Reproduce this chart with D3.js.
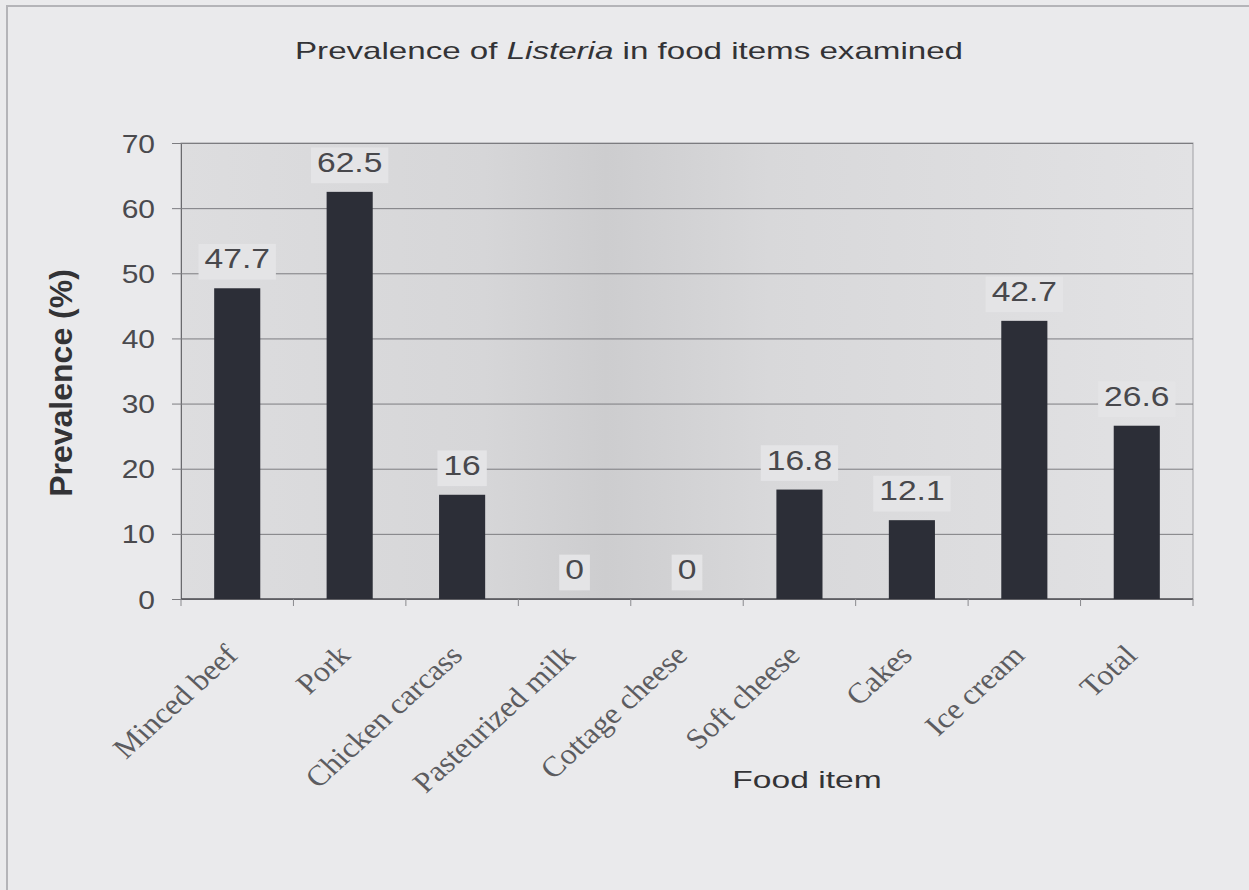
<!DOCTYPE html>
<html>
<head>
<meta charset="utf-8">
<script src="https://cdn.jsdelivr.net/npm/d3@7"></script>
<style>
  body { margin: 0; background: #eaeaec; }
  svg { display: block; }
</style>
</head>
<body>
<script>
var foods = ["Minced beef", "Pork", "Chicken carcass", "Pasteurized milk", "Cottage cheese",
             "Soft cheese", "Cakes", "Ice cream", "Total"];
var prevalence = [47.7, 62.5, 16, 0, 0, 16.8, 12.1, 42.7, 26.6];
var yTicks = [0, 10, 20, 30, 40, 50, 60, 70];

var width = 1249,
    height = 890;

var plotLeft = 181, plotRight = 1193, plotTop = 143, plotBottom = 599;

var svg = d3.select("body").append("svg")
    .attr("width", width)
    .attr("height", height);

// plot background, darker in the middle like the scan
var grad = svg.append("defs").append("linearGradient")
    .attr("id", "plotbg");
grad.append("stop").attr("offset", "0%").attr("stop-color", "#dddddf");
grad.append("stop").attr("offset", "30%").attr("stop-color", "#d6d6d8");
grad.append("stop").attr("offset", "42%").attr("stop-color", "#cdcdcf");
grad.append("stop").attr("offset", "58%").attr("stop-color", "#d8d8da");
grad.append("stop").attr("offset", "100%").attr("stop-color", "#e2e2e4");

// outer frame
svg.append("rect")
    .attr("x", 7).attr("y", 6)
    .attr("width", width).attr("height", height)
    .attr("fill", "none")
    .attr("stroke", "#b4b4b8")
    .attr("stroke-width", 2);

var x = d3.scaleBand()
    .domain(foods)
    .range([plotLeft, plotRight])
    .paddingInner(0.59)
    .paddingOuter(0.295);

var y = d3.scaleLinear()
    .domain([0, 70])
    .range([plotBottom, plotTop]);

svg.append("rect")
    .attr("x", plotLeft).attr("y", plotTop)
    .attr("width", plotRight - plotLeft).attr("height", plotBottom - plotTop)
    .attr("fill", "url(#plotbg)")
    .attr("stroke", "#a0a0a4");

// gridlines + y axis
var yAxis = svg.append("g")
    .attr("transform", "translate(" + plotLeft + ",0)")
    .call(d3.axisLeft(y).tickValues(yTicks).tickSize(-(plotRight - plotLeft)).tickSizeOuter(0).tickFormat(""));
yAxis.select(".domain").attr("stroke", "#6a6a6e");
yAxis.selectAll(".tick line")
    .attr("x1", -9)
    .attr("stroke", "#7c7c80");

yAxis.selectAll(".tick")
  .append("g")
    .attr("transform", "translate(-26,9) scale(1.2,1)")
  .append("text")
    .attr("text-anchor", "end")
    .attr("fill", "#4a4a4e")
    .style("font-family", "'Liberation Sans', Arial, sans-serif")
    .style("font-size", "25px")
    .text(function(d) { return d; });

// x axis
var xAxis = svg.append("g")
    .attr("transform", "translate(0," + plotBottom + ")");
xAxis.append("line")
    .attr("x1", plotLeft).attr("x2", plotRight)
    .attr("stroke", "#55555a")
    .attr("stroke-width", 1.5);
xAxis.selectAll(".xtick")
    .data(d3.range(foods.length + 1))
  .enter().append("line")
    .attr("class", "xtick")
    .attr("x1", function(i) { return plotLeft + i * x.step(); })
    .attr("x2", function(i) { return plotLeft + i * x.step(); })
    .attr("y1", 0).attr("y2", 7)
    .attr("stroke", "#8a8a8e");

xAxis.selectAll(".xlabel")
    .data(foods)
  .enter().append("g")
    .attr("class", "xlabel")
    .attr("transform", function(d) {
      return "translate(" + (x(d) + x.bandwidth() / 2 + 2) + ",58) scale(1.1,1) rotate(-45)";
    })
  .append("text")
    .attr("text-anchor", "end")
    .attr("fill", "#5c5c60")
    .style("font-family", "'Liberation Serif', 'Times New Roman', serif")
    .style("font-size", "29px")
    .text(function(d) { return d; });

// bars
svg.selectAll(".bar")
    .data(prevalence)
  .enter().append("rect")
    .attr("class", "bar")
    .attr("x", function(d, i) { return x(foods[i]); })
    .attr("y", function(d) { return y(d); })
    .attr("width", x.bandwidth())
    .attr("height", function(d) { return plotBottom - y(d); })
    .attr("fill", "#2c2e37");

// data labels with background boxes
var labels = svg.selectAll(".vlabel")
    .data(prevalence)
  .enter().append("g")
    .attr("class", "vlabel")
    .attr("transform", function(d, i) {
      return "translate(" + (x(foods[i]) + x.bandwidth() / 2) + "," + (y(d) - 20) + ") scale(1.2,1)";
    });

labels.append("text")
    .attr("text-anchor", "middle")
    .attr("fill", "#48484c")
    .style("font-family", "'Liberation Sans', Arial, sans-serif")
    .style("font-size", "28px")
    .text(function(d) { return d; });

labels.each(function() {
  var g = d3.select(this);
  var b = g.select("text").node().getBBox();
  g.insert("rect", "text")
    .attr("x", b.x - 5)
    .attr("y", b.y + 1)
    .attr("width", b.width + 10)
    .attr("height", b.height + 4)
    .attr("fill", "#e4e4e6");
});

// titles
var title = svg.append("g")
    .attr("transform", "translate(629,59) scale(1.38,1)")
  .append("text")
    .attr("text-anchor", "middle")
    .attr("fill", "#333336")
    .style("font-family", "'Liberation Sans', Arial, sans-serif")
    .style("font-size", "24px");
title.append("tspan").text("Prevalence of ");
title.append("tspan").style("font-style", "italic").text("Listeria");
title.append("tspan").text(" in food items examined");

svg.append("g")
    .attr("transform", "translate(807,788) scale(1.4,1)")
  .append("text")
    .attr("text-anchor", "middle")
    .attr("fill", "#333336")
    .style("font-family", "'Liberation Sans', Arial, sans-serif")
    .style("font-size", "24px")
    .text("Food item");

svg.append("text")
    .attr("transform", "translate(72,383) rotate(-90)")
    .attr("text-anchor", "middle")
    .attr("fill", "#333336")
    .style("font-family", "'Liberation Sans', Arial, sans-serif")
    .style("font-size", "32px")
    .style("font-weight", "bold")
    .text("Prevalence (%)");
</script>
</body>
</html>
